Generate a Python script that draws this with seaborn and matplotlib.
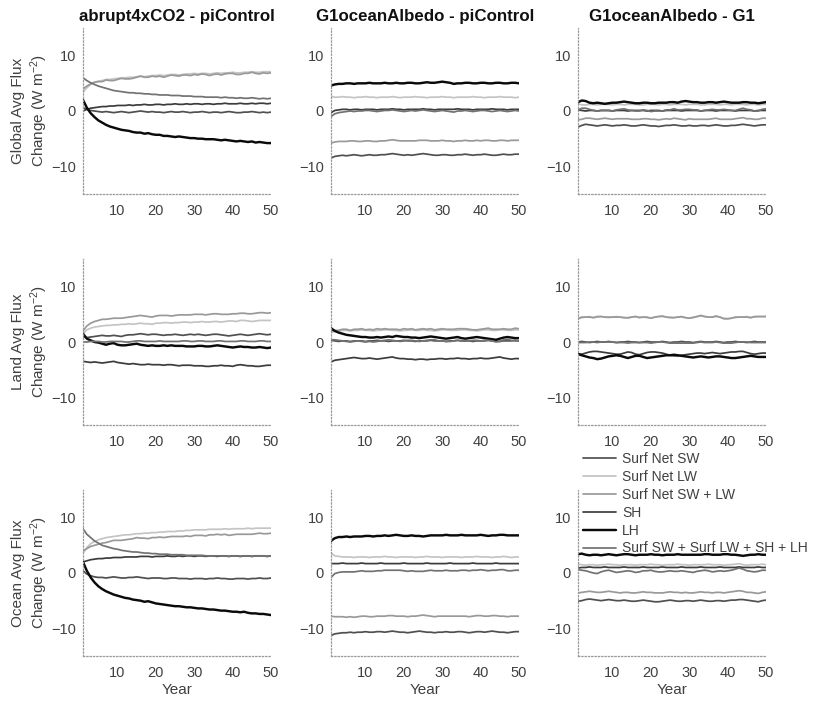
import pandas as pd
import seaborn as sns
import matplotlib.pyplot as plt
from matplotlib.lines import Line2D

years = list(range(1, 51))

components = ["Surf Net SW", "Surf Net LW", "Surf Net SW + LW", "SH", "LH",
              "Surf SW + Surf LW + SH + LH"]
experiments = ["abrupt4xCO2 - piControl", "G1oceanAlbedo - piControl", "G1oceanAlbedo - G1"]
regions = ["Global", "Land", "Ocean"]

# ---------------- Global mean, abrupt4xCO2 - piControl ----------------
glob_abr_sw = [0.6, 0.3, 0.1, 0.0, -0.1, -0.2, -0.1, -0.2, -0.3, -0.2, -0.1, -0.2, -0.3, -0.2, -0.1, 0.0, -0.1, -0.2, -0.1, -0.2, -0.2, -0.3, -0.2, -0.1, -0.2, -0.2, -0.1, -0.2, -0.3, -0.2, -0.2, -0.1, -0.2, -0.3, -0.2, -0.2, -0.3, -0.2, -0.1, -0.2, -0.3, -0.3, -0.2, -0.2, -0.1, -0.2, -0.3, -0.2, -0.3, -0.2]
glob_abr_lw = [3.4, 4.2, 4.8, 5.2, 5.4, 5.5, 5.7, 5.7, 5.8, 5.9, 6.0, 6.0, 6.1, 6.1, 6.2, 6.3, 6.2, 6.3, 6.4, 6.4, 6.5, 6.4, 6.5, 6.6, 6.6, 6.5, 6.6, 6.7, 6.7, 6.8, 6.7, 6.8, 6.8, 6.7, 6.8, 6.9, 6.8, 6.9, 6.9, 7.0, 6.9, 6.9, 7.0, 7.0, 7.1, 7.0, 7.0, 7.1, 7.1, 7.1]
glob_abr_swlw = [4.0, 4.5, 4.9, 5.2, 5.3, 5.3, 5.6, 5.5, 5.5, 5.7, 5.9, 5.8, 5.8, 5.9, 6.1, 6.3, 6.1, 6.1, 6.3, 6.2, 6.3, 6.1, 6.3, 6.5, 6.4, 6.3, 6.5, 6.5, 6.4, 6.6, 6.5, 6.7, 6.6, 6.4, 6.6, 6.7, 6.5, 6.7, 6.8, 6.8, 6.6, 6.6, 6.8, 6.8, 7.0, 6.8, 6.7, 6.9, 6.8, 6.9]
glob_abr_sh = [0.0, 0.3, 0.5, 0.6, 0.7, 0.8, 0.8, 0.9, 0.9, 1.0, 1.0, 1.0, 1.1, 1.0, 1.1, 1.1, 1.2, 1.1, 1.1, 1.2, 1.2, 1.1, 1.2, 1.2, 1.3, 1.2, 1.2, 1.3, 1.2, 1.3, 1.3, 1.2, 1.3, 1.3, 1.2, 1.3, 1.3, 1.4, 1.3, 1.3, 1.3, 1.4, 1.3, 1.3, 1.4, 1.3, 1.4, 1.4, 1.3, 1.4]
glob_abr_lh = [2.0, 0.6, -0.4, -1.1, -1.7, -2.1, -2.5, -2.8, -3.0, -3.2, -3.4, -3.5, -3.6, -3.8, -3.9, -3.9, -4.1, -4.0, -4.2, -4.3, -4.3, -4.5, -4.5, -4.6, -4.7, -4.6, -4.7, -4.8, -4.9, -4.9, -5.0, -5.0, -5.1, -5.1, -5.1, -5.2, -5.3, -5.2, -5.3, -5.4, -5.5, -5.4, -5.5, -5.6, -5.5, -5.7, -5.6, -5.7, -5.8, -5.8]
glob_abr_tot = [6.0, 5.5, 5.1, 4.8, 4.5, 4.3, 4.1, 3.9, 3.7, 3.6, 3.5, 3.4, 3.3, 3.3, 3.2, 3.2, 3.1, 3.1, 3.0, 3.0, 2.9, 2.9, 2.9, 2.8, 2.8, 2.8, 2.7, 2.7, 2.7, 2.6, 2.6, 2.6, 2.5, 2.5, 2.5, 2.5, 2.4, 2.5, 2.4, 2.4, 2.3, 2.4, 2.3, 2.3, 2.4, 2.3, 2.2, 2.3, 2.2, 2.3]

# ---------------- Global mean, G1oceanAlbedo - piControl ----------------
glob_oap_sw = [-8.5, -8.2, -8.1, -8.0, -8.1, -8.0, -7.9, -8.0, -8.1, -8.0, -7.9, -8.0, -8.0, -7.9, -7.9, -7.8, -7.7, -7.8, -7.9, -8.0, -7.9, -8.0, -7.9, -7.8, -7.7, -7.8, -7.9, -8.0, -8.0, -7.9, -7.9, -8.0, -8.0, -7.9, -7.9, -7.8, -7.9, -8.0, -7.9, -7.9, -7.8, -7.9, -8.0, -8.0, -7.9, -7.8, -7.9, -7.9, -7.8, -7.8]
glob_oap_lw = [2.6, 2.5, 2.5, 2.6, 2.5, 2.5, 2.4, 2.5, 2.5, 2.6, 2.5, 2.5, 2.4, 2.5, 2.5, 2.5, 2.6, 2.5, 2.4, 2.5, 2.5, 2.5, 2.6, 2.5, 2.5, 2.4, 2.5, 2.5, 2.5, 2.6, 2.5, 2.5, 2.4, 2.5, 2.5, 2.5, 2.5, 2.6, 2.5, 2.5, 2.4, 2.5, 2.5, 2.5, 2.6, 2.5, 2.5, 2.5, 2.4, 2.5]
glob_oap_swlw = [-5.8, -5.6, -5.5, -5.5, -5.5, -5.4, -5.4, -5.5, -5.5, -5.4, -5.4, -5.5, -5.5, -5.4, -5.4, -5.3, -5.2, -5.3, -5.4, -5.4, -5.4, -5.4, -5.4, -5.3, -5.3, -5.3, -5.4, -5.4, -5.4, -5.3, -5.4, -5.4, -5.5, -5.4, -5.4, -5.3, -5.4, -5.4, -5.3, -5.4, -5.3, -5.3, -5.4, -5.4, -5.3, -5.3, -5.4, -5.3, -5.3, -5.3]
glob_oap_sh = [-0.3, 0.1, 0.2, 0.3, 0.3, 0.2, 0.3, 0.3, 0.2, 0.3, 0.3, 0.3, 0.2, 0.3, 0.3, 0.3, 0.4, 0.3, 0.3, 0.2, 0.3, 0.3, 0.3, 0.3, 0.4, 0.3, 0.3, 0.2, 0.3, 0.3, 0.3, 0.3, 0.3, 0.4, 0.3, 0.3, 0.3, 0.2, 0.3, 0.3, 0.3, 0.3, 0.4, 0.3, 0.3, 0.3, 0.2, 0.3, 0.3, 0.3]
glob_oap_lh = [4.6, 4.8, 4.9, 4.9, 5.0, 5.0, 4.9, 5.0, 5.0, 5.0, 5.1, 5.0, 5.0, 5.0, 5.1, 5.0, 5.0, 5.1, 5.0, 5.0, 5.1, 5.1, 5.0, 5.0, 5.1, 5.2, 5.1, 5.1, 5.2, 5.3, 5.2, 5.1, 4.9, 5.0, 5.0, 5.1, 5.1, 5.0, 5.0, 5.1, 5.1, 5.0, 5.0, 5.1, 5.1, 5.0, 5.0, 5.1, 5.1, 5.0]
glob_oap_tot = [-1.0, -0.5, -0.3, -0.2, -0.1, 0.0, -0.1, 0.0, 0.0, 0.1, 0.1, 0.0, -0.1, 0.0, 0.1, 0.1, 0.2, 0.1, 0.0, -0.1, 0.0, 0.1, 0.0, 0.1, 0.2, 0.1, 0.0, -0.1, 0.0, 0.1, 0.0, -0.1, -0.2, 0.0, 0.0, 0.1, 0.0, -0.1, 0.0, 0.1, 0.1, 0.0, -0.1, 0.0, 0.1, 0.0, -0.1, 0.0, 0.1, 0.0]

# ---------------- Global mean, G1oceanAlbedo - G1 ----------------
glob_oag_sw = [-2.9, -2.6, -2.4, -2.5, -2.6, -2.7, -2.6, -2.5, -2.6, -2.7, -2.6, -2.6, -2.5, -2.6, -2.7, -2.7, -2.6, -2.5, -2.6, -2.7, -2.7, -2.8, -2.7, -2.6, -2.6, -2.5, -2.6, -2.7, -2.7, -2.6, -2.7, -2.7, -2.6, -2.6, -2.7, -2.6, -2.5, -2.6, -2.7, -2.7, -2.6, -2.6, -2.5, -2.4, -2.5, -2.6, -2.7, -2.6, -2.5, -2.5]
glob_oag_lw = [1.3, 1.1, 1.1, 1.2, 1.2, 1.1, 1.2, 1.2, 1.2, 1.1, 1.2, 1.2, 1.1, 1.2, 1.2, 1.2, 1.1, 1.1, 1.2, 1.2, 1.2, 1.1, 1.2, 1.2, 1.1, 1.2, 1.2, 1.2, 1.1, 1.2, 1.2, 1.2, 1.1, 1.1, 1.2, 1.2, 1.2, 1.1, 1.2, 1.2, 1.1, 1.2, 1.2, 1.2, 1.1, 1.2, 1.2, 1.1, 1.2, 1.2]
glob_oag_swlw = [-1.6, -1.5, -1.3, -1.3, -1.4, -1.5, -1.4, -1.3, -1.4, -1.5, -1.4, -1.4, -1.4, -1.4, -1.5, -1.5, -1.5, -1.4, -1.4, -1.5, -1.5, -1.6, -1.5, -1.4, -1.5, -1.3, -1.4, -1.5, -1.6, -1.4, -1.5, -1.5, -1.5, -1.5, -1.5, -1.4, -1.3, -1.5, -1.5, -1.5, -1.5, -1.4, -1.3, -1.2, -1.4, -1.4, -1.5, -1.5, -1.3, -1.3]
glob_oag_sh = [0.2, 0.1, 0.0, 0.1, 0.1, 0.0, 0.1, 0.1, 0.1, 0.0, 0.1, 0.1, 0.1, 0.0, 0.1, 0.1, 0.1, 0.1, 0.0, 0.1, 0.1, 0.1, 0.0, 0.1, 0.1, 0.1, 0.1, 0.0, 0.1, 0.1, 0.1, 0.1, 0.0, 0.1, 0.1, 0.1, 0.0, 0.1, 0.1, 0.1, 0.1, 0.0, 0.1, 0.1, 0.1, 0.1, 0.0, 0.1, 0.1, 0.1]
glob_oag_lh = [1.6, 1.9, 1.8, 1.5, 1.4, 1.5, 1.4, 1.3, 1.4, 1.5, 1.5, 1.6, 1.7, 1.6, 1.5, 1.4, 1.4, 1.5, 1.5, 1.4, 1.4, 1.5, 1.5, 1.5, 1.6, 1.6, 1.5, 1.7, 1.8, 1.7, 1.6, 1.6, 1.5, 1.5, 1.6, 1.6, 1.5, 1.6, 1.7, 1.6, 1.5, 1.5, 1.5, 1.6, 1.6, 1.5, 1.5, 1.4, 1.5, 1.6]
glob_oag_tot = [0.2, 0.5, 0.5, 0.3, 0.1, 0.0, 0.1, 0.1, 0.1, 0.0, 0.2, 0.3, 0.4, 0.2, 0.1, 0.0, 0.0, 0.2, 0.1, -0.1, 0.0, 0.0, 0.0, 0.2, 0.2, 0.4, 0.2, 0.2, 0.3, 0.3, 0.2, 0.2, 0.0, 0.1, 0.2, 0.3, 0.2, 0.2, 0.3, 0.2, 0.1, 0.1, 0.3, 0.5, 0.3, 0.2, 0.0, 0.0, 0.3, 0.4]

# ---------------- Land mean, abrupt4xCO2 - piControl ----------------
land_abr_sw = [1.0, 0.8, 0.9, 1.0, 1.1, 1.2, 1.1, 1.1, 1.2, 1.1, 1.0, 1.2, 1.3, 1.3, 1.4, 1.5, 1.4, 1.3, 1.4, 1.4, 1.3, 1.2, 1.3, 1.3, 1.4, 1.3, 1.2, 1.3, 1.4, 1.3, 1.4, 1.3, 1.2, 1.3, 1.4, 1.4, 1.3, 1.2, 1.1, 1.2, 1.3, 1.4, 1.3, 1.2, 1.3, 1.4, 1.5, 1.4, 1.3, 1.4]
land_abr_lw = [1.5, 2.2, 2.5, 2.7, 2.8, 2.9, 3.0, 3.0, 3.1, 3.1, 3.2, 3.2, 3.3, 3.2, 3.3, 3.4, 3.3, 3.3, 3.2, 3.4, 3.4, 3.5, 3.5, 3.4, 3.5, 3.5, 3.6, 3.6, 3.5, 3.6, 3.6, 3.7, 3.6, 3.6, 3.7, 3.7, 3.6, 3.7, 3.8, 3.8, 3.7, 3.9, 3.9, 3.8, 3.7, 3.8, 3.9, 3.9, 3.9, 3.9]
land_abr_swlw = [2.0, 2.9, 3.4, 3.7, 3.9, 4.1, 4.1, 4.2, 4.3, 4.3, 4.3, 4.4, 4.5, 4.6, 4.7, 4.8, 4.7, 4.6, 4.5, 4.7, 4.8, 4.8, 4.8, 4.7, 4.8, 4.9, 4.9, 4.9, 4.9, 5.0, 5.0, 5.0, 4.9, 5.0, 5.1, 5.1, 5.0, 5.0, 5.0, 5.1, 5.1, 5.2, 5.2, 5.1, 5.1, 5.2, 5.3, 5.3, 5.2, 5.3]
land_abr_sh = [-3.5, -3.6, -3.7, -3.6, -3.7, -3.8, -3.7, -3.6, -3.5, -3.7, -3.8, -3.9, -4.0, -3.9, -4.0, -4.1, -4.1, -4.0, -4.1, -4.1, -4.1, -4.2, -4.1, -4.1, -4.2, -4.3, -4.2, -4.2, -4.2, -4.3, -4.3, -4.3, -4.4, -4.4, -4.3, -4.3, -4.2, -4.3, -4.3, -4.4, -4.2, -4.1, -4.2, -4.3, -4.3, -4.4, -4.4, -4.3, -4.2, -4.2]
land_abr_lh = [1.5, 0.6, 0.3, 0.0, -0.1, -0.3, -0.5, -0.3, -0.2, -0.5, -0.6, -0.6, -0.5, -0.4, -0.3, -0.5, -0.6, -0.7, -0.6, -0.7, -0.7, -0.6, -0.7, -0.6, -0.7, -0.7, -0.7, -0.8, -0.8, -0.8, -0.7, -0.7, -0.8, -0.8, -0.7, -0.6, -0.7, -0.8, -0.9, -1.0, -0.9, -0.8, -0.9, -0.9, -1.0, -1.0, -0.9, -1.0, -1.1, -1.0]
land_abr_tot = [0.0, 0.0, 0.1, 0.1, 0.1, 0.0, 0.0, 0.1, 0.1, 0.1, 0.1, 0.0, 0.0, 0.1, 0.2, 0.2, 0.1, 0.1, 0.1, 0.1, 0.2, 0.1, 0.1, 0.1, 0.1, 0.1, 0.2, 0.2, 0.1, 0.1, 0.2, 0.2, 0.1, 0.1, 0.1, 0.2, 0.2, 0.1, 0.1, 0.1, 0.1, 0.2, 0.2, 0.1, 0.1, 0.1, 0.2, 0.2, 0.1, 0.1]

# ---------------- Land mean, G1oceanAlbedo - piControl ----------------
land_oap_sw = [0.3, 0.2, 0.1, 0.2, 0.2, 0.1, 0.2, 0.2, 0.2, 0.1, 0.2, 0.2, 0.3, 0.2, 0.2, 0.1, 0.2, 0.2, 0.2, 0.3, 0.2, 0.2, 0.1, 0.2, 0.2, 0.2, 0.3, 0.2, 0.2, 0.2, 0.1, 0.2, 0.2, 0.3, 0.2, 0.2, 0.2, 0.1, 0.2, 0.2, 0.2, 0.3, 0.2, 0.2, 0.1, 0.2, 0.2, 0.2, 0.3, 0.2]
land_oap_lw = [1.7, 1.9, 2.0, 2.1, 2.1, 2.0, 2.1, 2.1, 2.2, 2.1, 2.1, 2.0, 2.1, 2.1, 2.2, 2.2, 2.1, 2.1, 2.0, 2.1, 2.1, 2.2, 2.1, 2.1, 2.2, 2.1, 2.1, 2.0, 2.1, 2.2, 2.2, 2.1, 2.1, 2.1, 2.2, 2.2, 2.1, 2.1, 2.0, 2.1, 2.2, 2.2, 2.1, 2.1, 2.2, 2.2, 2.1, 2.1, 2.2, 2.2]
land_oap_swlw = [2.0, 2.1, 2.1, 2.3, 2.3, 2.1, 2.3, 2.3, 2.4, 2.2, 2.3, 2.2, 2.4, 2.3, 2.4, 2.3, 2.3, 2.3, 2.2, 2.4, 2.3, 2.4, 2.2, 2.3, 2.4, 2.3, 2.4, 2.2, 2.3, 2.4, 2.3, 2.3, 2.3, 2.4, 2.4, 2.4, 2.3, 2.2, 2.2, 2.3, 2.4, 2.5, 2.3, 2.3, 2.3, 2.4, 2.3, 2.3, 2.5, 2.4]
land_oap_sh = [-3.6, -3.3, -3.2, -3.1, -3.0, -2.9, -2.8, -2.9, -3.0, -3.0, -2.9, -3.0, -3.1, -3.0, -2.9, -2.8, -2.7, -2.9, -3.0, -3.0, -3.1, -3.1, -3.2, -3.1, -3.1, -3.2, -3.1, -3.1, -3.0, -3.0, -3.1, -3.0, -3.0, -2.9, -3.0, -3.0, -3.1, -3.0, -3.0, -2.9, -3.0, -3.0, -2.9, -2.8, -2.7, -2.9, -3.0, -3.1, -3.0, -3.0]
land_oap_lh = [2.5, 2.0, 1.7, 1.5, 1.3, 1.2, 1.1, 1.0, 0.9, 0.9, 0.8, 0.8, 0.9, 0.8, 0.9, 1.0, 0.9, 1.1, 1.0, 0.9, 0.9, 0.8, 0.8, 0.7, 0.8, 0.9, 1.0, 0.9, 0.8, 0.7, 0.6, 0.7, 0.8, 0.9, 0.7, 0.6, 0.7, 0.8, 0.9, 0.8, 0.7, 0.6, 0.5, 0.4, 0.6, 0.8, 0.9, 0.8, 0.7, 0.7]
land_oap_tot = [0.4, 0.4, 0.3, 0.2, 0.1, 0.0, 0.1, 0.2, 0.1, 0.0, 0.1, 0.0, 0.1, 0.2, 0.3, 0.4, 0.3, 0.2, 0.1, 0.2, 0.3, 0.3, 0.2, 0.1, 0.2, 0.3, 0.4, 0.4, 0.2, 0.2, 0.1, 0.1, 0.2, 0.3, 0.2, 0.2, 0.2, 0.3, 0.3, 0.2, 0.3, 0.3, 0.2, 0.0, 0.1, 0.4, 0.5, 0.3, 0.2, 0.2]

# ---------------- Land mean, G1oceanAlbedo - G1 ----------------
land_oag_sw = [0.0, 0.1, 0.0, -0.1, 0.0, 0.1, 0.0, 0.0, 0.1, 0.0, -0.1, 0.0, 0.0, 0.1, 0.0, 0.0, -0.1, 0.0, 0.1, 0.0, 0.0, 0.0, 0.1, 0.0, -0.1, 0.0, 0.0, 0.1, 0.0, 0.0, -0.1, 0.0, 0.1, 0.0, 0.0, 0.0, 0.1, 0.0, -0.1, 0.0, 0.0, 0.1, 0.0, 0.0, -0.1, 0.0, 0.1, 0.0, 0.0, 0.0]
land_oag_lw = [4.2, 4.4, 4.5, 4.6, 4.4, 4.5, 4.6, 4.5, 4.4, 4.5, 4.6, 4.5, 4.4, 4.3, 4.5, 4.6, 4.5, 4.5, 4.4, 4.3, 4.5, 4.6, 4.6, 4.5, 4.5, 4.4, 4.5, 4.5, 4.4, 4.3, 4.5, 4.6, 4.7, 4.6, 4.5, 4.5, 4.6, 4.5, 4.3, 4.2, 4.3, 4.4, 4.5, 4.5, 4.6, 4.4, 4.5, 4.6, 4.6, 4.6]
land_oag_swlw = [4.2, 4.5, 4.5, 4.5, 4.4, 4.6, 4.6, 4.5, 4.5, 4.5, 4.5, 4.5, 4.4, 4.4, 4.5, 4.6, 4.4, 4.5, 4.5, 4.3, 4.5, 4.6, 4.7, 4.5, 4.4, 4.4, 4.5, 4.6, 4.4, 4.3, 4.4, 4.6, 4.8, 4.6, 4.5, 4.5, 4.7, 4.5, 4.2, 4.2, 4.3, 4.5, 4.5, 4.5, 4.5, 4.4, 4.6, 4.6, 4.6, 4.6]
land_oag_sh = [-2.1, -2.2, -2.0, -1.8, -1.7, -1.7, -1.8, -1.9, -2.0, -2.1, -2.2, -2.2, -2.0, -1.8, -1.9, -2.2, -2.3, -2.1, -1.9, -1.8, -1.8, -1.9, -2.0, -2.2, -2.4, -2.5, -2.5, -2.4, -2.3, -2.2, -2.1, -2.0, -2.0, -2.1, -2.0, -1.9, -2.0, -2.1, -2.0, -1.9, -1.8, -1.8, -1.7, -1.7, -1.9, -2.1, -2.2, -2.1, -2.0, -2.0]
land_oag_lh = [-2.2, -2.4, -2.6, -2.8, -2.9, -3.1, -3.0, -2.8, -2.6, -2.5, -2.4, -2.5, -2.7, -2.9, -2.7, -2.5, -2.5, -2.7, -2.9, -2.8, -2.7, -2.6, -2.5, -2.4, -2.4, -2.3, -2.4, -2.5, -2.6, -2.7, -2.8, -2.7, -2.6, -2.7, -2.8, -2.7, -2.6, -2.6, -2.7, -2.8, -2.9, -2.9, -2.8, -2.7, -2.6, -2.5, -2.6, -2.7, -2.7, -2.7]
land_oag_tot = [-0.1, -0.1, -0.1, 0.0, 0.0, -0.1, 0.0, 0.0, 0.0, 0.0, -0.1, -0.1, -0.1, -0.2, -0.1, -0.1, -0.1, -0.1, -0.1, -0.2, -0.1, 0.0, 0.0, -0.1, -0.2, -0.2, -0.2, -0.2, -0.2, -0.2, -0.2, -0.1, 0.0, -0.1, -0.1, -0.1, 0.0, -0.1, -0.2, -0.2, -0.2, -0.1, 0.0, 0.0, 0.0, -0.1, -0.1, -0.1, -0.1, -0.1]

# ---------------- Ocean mean, abrupt4xCO2 - piControl ----------------
ocn_abr_sw = [0.4, -0.2, -0.5, -0.7, -0.8, -0.8, -0.9, -0.8, -0.7, -0.8, -0.9, -0.9, -0.8, -0.8, -0.7, -0.8, -0.9, -1.0, -0.9, -0.9, -0.9, -1.0, -1.0, -0.9, -0.9, -1.0, -1.0, -1.0, -1.1, -1.0, -1.0, -1.0, -1.1, -1.0, -1.0, -0.9, -1.0, -1.0, -1.1, -1.1, -1.0, -1.0, -1.0, -1.1, -1.0, -1.0, -0.9, -1.0, -1.0, -0.9]
ocn_abr_lw = [3.6, 4.6, 5.3, 5.7, 6.0, 6.2, 6.4, 6.5, 6.6, 6.7, 6.8, 6.9, 6.9, 7.0, 7.1, 7.1, 7.2, 7.2, 7.3, 7.3, 7.4, 7.4, 7.5, 7.5, 7.5, 7.6, 7.6, 7.7, 7.7, 7.8, 7.8, 7.8, 7.8, 7.9, 7.9, 7.9, 7.9, 8.0, 7.9, 8.0, 8.0, 8.0, 8.0, 8.1, 8.0, 8.1, 8.1, 8.1, 8.1, 8.1]
ocn_abr_swlw = [4.0, 4.4, 4.8, 5.0, 5.2, 5.4, 5.5, 5.7, 5.9, 5.9, 5.9, 6.0, 6.1, 6.2, 6.4, 6.3, 6.3, 6.2, 6.4, 6.4, 6.5, 6.4, 6.5, 6.6, 6.6, 6.6, 6.6, 6.7, 6.6, 6.8, 6.8, 6.8, 6.7, 6.9, 6.9, 7.0, 6.9, 7.0, 6.8, 6.9, 7.0, 7.0, 7.0, 7.0, 7.0, 7.1, 7.2, 7.1, 7.1, 7.2]
ocn_abr_sh = [2.0, 2.2, 2.4, 2.5, 2.6, 2.6, 2.7, 2.7, 2.8, 2.8, 2.8, 2.9, 2.9, 2.9, 2.9, 3.0, 3.0, 3.0, 2.9, 3.0, 3.0, 3.0, 3.1, 3.0, 3.0, 3.1, 3.0, 3.1, 3.1, 3.0, 3.1, 3.1, 3.0, 3.1, 3.1, 3.0, 3.1, 3.1, 3.0, 3.1, 3.1, 3.0, 3.1, 3.1, 3.0, 3.1, 3.1, 3.1, 3.0, 3.1]
ocn_abr_lh = [2.0, 0.4, -0.8, -1.7, -2.4, -2.9, -3.3, -3.6, -3.9, -4.1, -4.3, -4.5, -4.6, -4.8, -4.9, -5.0, -5.2, -5.1, -5.3, -5.5, -5.6, -5.7, -5.8, -5.9, -6.0, -6.0, -6.1, -6.2, -6.2, -6.3, -6.4, -6.4, -6.5, -6.6, -6.6, -6.7, -6.8, -6.8, -6.9, -7.0, -7.0, -7.1, -7.0, -7.2, -7.3, -7.3, -7.4, -7.4, -7.5, -7.6]
ocn_abr_tot = [8.0, 7.0, 6.4, 5.8, 5.4, 5.0, 4.8, 4.6, 4.4, 4.3, 4.1, 4.0, 3.9, 3.8, 3.8, 3.7, 3.6, 3.6, 3.5, 3.5, 3.4, 3.4, 3.4, 3.3, 3.3, 3.3, 3.3, 3.2, 3.2, 3.2, 3.2, 3.2, 3.1, 3.1, 3.1, 3.1, 3.1, 3.1, 3.0, 3.1, 3.1, 3.0, 3.1, 3.1, 3.0, 3.1, 3.1, 3.1, 3.0, 3.1]

# ---------------- Ocean mean, G1oceanAlbedo - piControl ----------------
ocn_oap_sw = [-11.3, -11.0, -10.9, -10.8, -10.8, -10.7, -10.8, -10.7, -10.7, -10.6, -10.7, -10.7, -10.6, -10.6, -10.7, -10.6, -10.5, -10.6, -10.7, -10.7, -10.8, -10.7, -10.6, -10.5, -10.6, -10.7, -10.7, -10.8, -10.7, -10.7, -10.6, -10.7, -10.7, -10.6, -10.6, -10.7, -10.8, -10.7, -10.6, -10.6, -10.7, -10.6, -10.5, -10.6, -10.7, -10.7, -10.8, -10.7, -10.6, -10.6]
ocn_oap_lw = [3.6, 3.1, 3.0, 2.9, 2.9, 2.9, 2.8, 2.9, 2.9, 2.9, 2.8, 2.9, 2.9, 2.9, 3.0, 2.9, 2.9, 2.8, 2.9, 2.9, 2.9, 2.9, 2.8, 2.9, 2.9, 3.0, 2.9, 2.9, 2.9, 2.8, 2.9, 2.9, 2.9, 2.9, 2.8, 2.9, 2.9, 2.9, 3.0, 2.9, 2.9, 2.9, 2.8, 2.9, 2.9, 3.0, 2.9, 2.8, 2.9, 2.9]
ocn_oap_swlw = [-7.8, -7.9, -7.9, -7.9, -8.0, -7.9, -8.0, -7.9, -7.8, -7.8, -7.9, -7.9, -7.8, -7.8, -7.8, -7.7, -7.7, -7.8, -7.8, -7.8, -7.9, -7.8, -7.8, -7.7, -7.6, -7.7, -7.8, -7.9, -7.8, -7.8, -7.8, -7.8, -7.8, -7.8, -7.8, -7.8, -7.9, -7.8, -7.7, -7.7, -7.8, -7.8, -7.7, -7.7, -7.8, -7.8, -7.9, -7.8, -7.8, -7.8]
ocn_oap_sh = [1.7, 1.7, 1.7, 1.8, 1.7, 1.7, 1.7, 1.7, 1.8, 1.7, 1.7, 1.7, 1.7, 1.8, 1.7, 1.7, 1.7, 1.7, 1.7, 1.8, 1.7, 1.7, 1.7, 1.7, 1.7, 1.8, 1.7, 1.7, 1.7, 1.7, 1.7, 1.8, 1.7, 1.7, 1.7, 1.7, 1.7, 1.8, 1.7, 1.7, 1.7, 1.7, 1.7, 1.8, 1.7, 1.7, 1.7, 1.7, 1.7, 1.7]
ocn_oap_lh = [5.8, 6.3, 6.5, 6.5, 6.6, 6.5, 6.6, 6.6, 6.6, 6.7, 6.7, 6.6, 6.7, 6.7, 6.8, 6.7, 6.8, 6.9, 6.8, 6.7, 6.7, 6.8, 6.7, 6.7, 6.6, 6.7, 6.8, 6.8, 6.8, 6.8, 6.9, 6.8, 6.8, 6.8, 6.9, 6.8, 6.8, 6.8, 6.8, 6.9, 6.8, 6.7, 6.8, 6.8, 6.9, 6.9, 6.8, 6.8, 6.8, 6.8]
ocn_oap_tot = [-0.8, -0.1, 0.1, 0.2, 0.2, 0.2, 0.2, 0.3, 0.4, 0.3, 0.3, 0.3, 0.4, 0.4, 0.5, 0.5, 0.5, 0.5, 0.5, 0.4, 0.3, 0.4, 0.3, 0.3, 0.3, 0.4, 0.5, 0.4, 0.4, 0.4, 0.5, 0.4, 0.4, 0.4, 0.5, 0.5, 0.4, 0.5, 0.5, 0.6, 0.5, 0.4, 0.5, 0.5, 0.6, 0.6, 0.4, 0.4, 0.5, 0.5]

# ---------------- Ocean mean, G1oceanAlbedo - G1 ----------------
ocn_oag_sw = [-5.1, -5.0, -4.8, -4.7, -4.8, -4.9, -5.0, -4.9, -4.8, -4.9, -5.0, -5.0, -4.9, -5.0, -5.1, -5.1, -5.0, -4.9, -5.0, -5.1, -5.2, -5.2, -5.1, -5.0, -4.9, -5.0, -5.1, -5.1, -5.0, -5.0, -5.1, -5.0, -4.9, -5.0, -5.1, -5.1, -5.0, -5.0, -5.1, -5.0, -4.9, -4.9, -4.8, -4.8, -4.9, -5.0, -5.1, -5.2, -5.0, -4.9]
ocn_oag_lw = [1.6, 1.5, 1.4, 1.5, 1.5, 1.4, 1.5, 1.5, 1.6, 1.5, 1.5, 1.4, 1.5, 1.5, 1.5, 1.4, 1.5, 1.5, 1.5, 1.6, 1.5, 1.5, 1.4, 1.5, 1.5, 1.5, 1.6, 1.5, 1.5, 1.4, 1.5, 1.5, 1.5, 1.5, 1.6, 1.5, 1.5, 1.5, 1.4, 1.5, 1.5, 1.6, 1.7, 1.5, 1.4, 1.5, 1.5, 1.5, 1.6, 1.5]
ocn_oag_swlw = [-3.6, -3.5, -3.4, -3.3, -3.4, -3.5, -3.5, -3.4, -3.3, -3.4, -3.5, -3.6, -3.5, -3.5, -3.6, -3.6, -3.5, -3.4, -3.5, -3.5, -3.6, -3.6, -3.6, -3.5, -3.4, -3.5, -3.5, -3.6, -3.5, -3.6, -3.6, -3.5, -3.4, -3.5, -3.5, -3.6, -3.5, -3.5, -3.6, -3.5, -3.4, -3.3, -3.2, -3.3, -3.5, -3.5, -3.6, -3.7, -3.5, -3.4]
ocn_oag_sh = [0.9, 1.0, 1.0, 1.1, 1.0, 1.0, 1.0, 1.1, 1.0, 1.0, 1.0, 1.0, 1.1, 1.0, 1.0, 1.0, 1.0, 1.1, 1.0, 1.0, 1.0, 1.0, 1.1, 1.0, 1.0, 1.0, 1.0, 1.1, 1.0, 1.0, 1.0, 1.0, 1.1, 1.0, 1.0, 1.0, 1.0, 1.1, 1.0, 1.0, 1.0, 1.0, 1.1, 1.0, 1.0, 1.0, 1.0, 1.1, 1.0, 1.0]
ocn_oag_lh = [3.4, 3.5, 3.3, 3.2, 3.3, 3.3, 3.2, 3.3, 3.4, 3.3, 3.2, 3.3, 3.4, 3.4, 3.3, 3.2, 3.3, 3.3, 3.3, 3.4, 3.3, 3.3, 3.2, 3.3, 3.3, 3.3, 3.4, 3.3, 3.3, 3.3, 3.3, 3.3, 3.3, 3.4, 3.4, 3.3, 3.3, 3.3, 3.4, 3.4, 3.3, 3.3, 3.2, 3.1, 3.2, 3.3, 3.3, 3.4, 3.3, 3.3]
ocn_oag_tot = [0.6, 0.5, 0.4, 0.2, 0.0, -0.1, 0.2, 0.4, 0.5, 0.3, 0.1, 0.2, 0.3, 0.4, 0.3, 0.1, 0.2, 0.4, 0.4, 0.5, 0.3, 0.2, 0.2, 0.3, 0.4, 0.3, 0.3, 0.4, 0.3, 0.2, 0.1, 0.3, 0.4, 0.5, 0.4, 0.2, 0.3, 0.4, 0.3, 0.4, 0.5, 0.7, 0.9, 0.7, 0.4, 0.3, 0.2, 0.3, 0.5, 0.5]

panels = {
    ("Global", experiments[0]): [glob_abr_sw, glob_abr_lw, glob_abr_swlw, glob_abr_sh, glob_abr_lh, glob_abr_tot],
    ("Global", experiments[1]): [glob_oap_sw, glob_oap_lw, glob_oap_swlw, glob_oap_sh, glob_oap_lh, glob_oap_tot],
    ("Global", experiments[2]): [glob_oag_sw, glob_oag_lw, glob_oag_swlw, glob_oag_sh, glob_oag_lh, glob_oag_tot],
    ("Land", experiments[0]): [land_abr_sw, land_abr_lw, land_abr_swlw, land_abr_sh, land_abr_lh, land_abr_tot],
    ("Land", experiments[1]): [land_oap_sw, land_oap_lw, land_oap_swlw, land_oap_sh, land_oap_lh, land_oap_tot],
    ("Land", experiments[2]): [land_oag_sw, land_oag_lw, land_oag_swlw, land_oag_sh, land_oag_lh, land_oag_tot],
    ("Ocean", experiments[0]): [ocn_abr_sw, ocn_abr_lw, ocn_abr_swlw, ocn_abr_sh, ocn_abr_lh, ocn_abr_tot],
    ("Ocean", experiments[1]): [ocn_oap_sw, ocn_oap_lw, ocn_oap_swlw, ocn_oap_sh, ocn_oap_lh, ocn_oap_tot],
    ("Ocean", experiments[2]): [ocn_oag_sw, ocn_oag_lw, ocn_oag_swlw, ocn_oag_sh, ocn_oag_lh, ocn_oag_tot],
}

rows = []
for (region, exp), series in panels.items():
    for comp, vals in zip(components, series):
        for yr, v in zip(years, vals):
            rows.append((region, exp, comp, yr, v))
df = pd.DataFrame(rows, columns=["Region", "Experiment", "Component", "Year", "Flux"])

palette = {
    "Surf Net SW": "#505050",
    "Surf Net LW": "#c4c4c4",
    "Surf Net SW + LW": "#999999",
    "SH": "#3c3c3c",
    "LH": "#0a0a0a",
    "Surf SW + Surf LW + SH + LH": "#727272",
}
widths = {c: 1.25 for c in components}
widths["LH"] = 1.75

sns.set_style("white")
plt.rcParams["font.family"] = ["Liberation Sans", "DejaVu Sans"]
plt.rcParams["mathtext.default"] = "regular"

W, H = 813, 706
fig = plt.figure(figsize=(W / 100, H / 100), dpi=100)

col_left = [83, 331, 578]
row_top = [28, 259, 490]
ax_w, ax_h = 188, 166
spine_col = "#9a9a9a"
text_col = "#404040"

for r, region in enumerate(regions):
    for c, exp in enumerate(experiments):
        ax = fig.add_axes([col_left[c] / W, 1 - (row_top[r] + ax_h) / H, ax_w / W, ax_h / H])
        sub = df[(df["Region"] == region) & (df["Experiment"] == exp)]
        sns.lineplot(data=sub, x="Year", y="Flux", hue="Component", size="Component",
                     hue_order=components, size_order=components,
                     palette=palette, sizes=widths, legend=False, ax=ax)
        ax.set_xlim(1, 50)
        ax.set_ylim(-15, 15)
        ax.set_xticks([10, 20, 30, 40, 50])
        ax.set_yticks([-10, 0, 10])
        for side in ("top", "right"):
            ax.spines[side].set_visible(False)
        for side in ("left", "bottom"):
            ax.spines[side].set_linestyle(":")
            ax.spines[side].set_color(spine_col)
            ax.spines[side].set_linewidth(0.9)
        ax.tick_params(direction="in", length=3, width=0.6, color=spine_col,
                       labelsize=10.5, labelcolor=text_col)
        ax.tick_params(axis="x", pad=7)
        ax.tick_params(axis="y", pad=5)
        if r == 0:
            ax.set_title(exp, fontsize=12.2, fontweight="bold", pad=5, color="#111111")
        if c == 0:
            ax.set_ylabel(f"{region} Avg Flux\nChange (W m$^{{-2}}$)", fontsize=11,
                          color=text_col, labelpad=1)
        else:
            ax.set_ylabel("")
        if r == 2:
            ax.set_xlabel("Year", fontsize=11, color=text_col, labelpad=2)
        else:
            ax.set_xlabel("")

handles = [Line2D([], [], color=palette[cmp], lw=widths[cmp]) for cmp in components]
fig.legend(handles, components, loc="upper left",
           bbox_to_anchor=(583 / W, 1 - 452 / H), frameon=False, fontsize=10,
           handlelength=2.4, handletextpad=0.4, labelspacing=0.28,
           borderpad=0, borderaxespad=0, labelcolor=text_col)

fig.savefig("out.png", dpi=100, facecolor="white")
